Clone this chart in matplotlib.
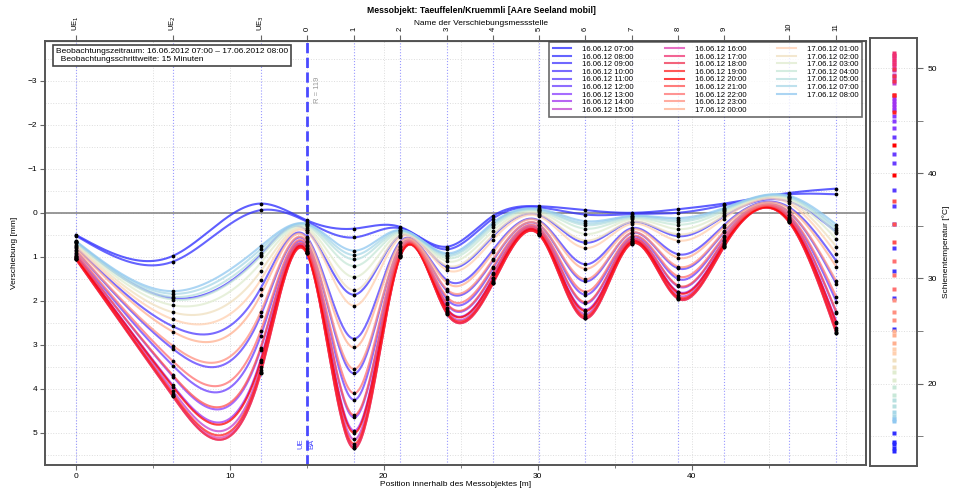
import numpy as np
import matplotlib
matplotlib.use('Agg')
import matplotlib.pyplot as plt
from matplotlib.lines import Line2D
from matplotlib.ticker import MultipleLocator, FixedLocator

plt.rcParams['font.family'] = ['Liberation Sans', 'DejaVu Sans']

# Messstellen (Position [m] und Name)
station_pos = [0, 6.3, 12.0, 15.0, 18.07, 21.06, 24.1, 27.1, 30.1, 33.1, 36.1, 39.1, 42.1, 46.3, 49.4]
station_names = ['UE$_1$', 'UE$_2$', 'UE$_3$', '0', '1', '2', '3', '4', '5', '6', '7', '8', '9', '10', '11']

# Zeitpunkte (Legende)
times_col1 = ['16.06.12 07:00', '16.06.12 08:00', '16.06.12 09:00', '16.06.12 10:00', '16.06.12 11:00',
              '16.06.12 12:00', '16.06.12 13:00', '16.06.12 14:00', '16.06.12 15:00']
times_col2 = ['16.06.12 16:00', '16.06.12 17:00', '16.06.12 18:00', '16.06.12 19:00', '16.06.12 20:00',
              '16.06.12 21:00', '16.06.12 22:00', '16.06.12 23:00', '17.06.12 00:00']
times_col3 = ['17.06.12 01:00', '17.06.12 02:00', '17.06.12 03:00', '17.06.12 04:00', '17.06.12 05:00',
              '17.06.12 07:00', '17.06.12 08:00']

colors_col1 = ['#2828ff', '#3230ff', '#4036ff', '#4c3aff', '#583cff', '#683cff', '#883cff', '#a032f0', '#c040d0']
colors_col2 = ['#e040b0', '#f03070', '#f03050', '#ff2020', '#ff0000', '#ff5050', '#ff7070', '#ff9080', '#ffb090']
colors_col3 = ['#ffd0b0', '#f0e0c0', '#e0ecd0', '#c8e8d8', '#b8e0e0', '#a8d8e8', '#90c8f0']

# Verschiebung [mm] je Messstelle
disp_col1 = [
    [0.50, 0.98, -0.21, 0.17, 0.36, 0.32, 0.77, 0.07, -0.15, -0.06, 0.00, -0.08, -0.21, -0.45, -0.55],
    [0.52, 1.11, -0.06, 0.20, 0.56, 0.35, 0.83, 0.13, -0.12, 0.04, 0.03, 0.00, -0.17, -0.42, -0.42],
    [0.67, 1.94, 0.95, 0.40, 1.86, 0.52, 1.23, 0.53, 0.05, 0.68, 0.21, 0.53, 0.08, -0.26, 0.44],
    [0.78, 2.58, 1.72, 0.55, 2.86, 0.66, 1.53, 0.84, 0.18, 1.17, 0.35, 0.94, 0.28, -0.13, 1.10],
    [0.86, 3.09, 2.34, 0.67, 3.65, 0.77, 1.77, 1.08, 0.28, 1.56, 0.46, 1.26, 0.44, -0.02, 1.62],
    [0.93, 3.47, 2.80, 0.76, 4.25, 0.85, 1.96, 1.26, 0.36, 1.86, 0.55, 1.50, 0.55, 0.06, 2.02],
    [0.97, 3.72, 3.11, 0.82, 4.65, 0.91, 2.08, 1.39, 0.41, 2.06, 0.60, 1.67, 0.63, 0.11, 2.28],
    [1.01, 3.92, 3.34, 0.86, 4.95, 0.95, 2.17, 1.48, 0.45, 2.20, 0.64, 1.79, 0.69, 0.15, 2.48],
    [1.03, 4.04, 3.50, 0.89, 5.15, 0.97, 2.23, 1.54, 0.47, 2.30, 0.67, 1.87, 0.73, 0.17, 2.61],
]
disp_col2 = [
    [1.04, 4.14, 3.61, 0.91, 5.30, 0.99, 2.28, 1.59, 0.49, 2.38, 0.69, 1.93, 0.76, 0.19, 2.71],
    [1.05, 4.17, 3.65, 0.92, 5.35, 1.00, 2.29, 1.60, 0.50, 2.40, 0.70, 1.95, 0.77, 0.20, 2.74],
    [1.05, 4.17, 3.65, 0.92, 5.35, 1.00, 2.29, 1.60, 0.50, 2.40, 0.70, 1.95, 0.77, 0.20, 2.74],
    [1.04, 4.11, 3.57, 0.91, 5.25, 0.99, 2.26, 1.57, 0.49, 2.35, 0.69, 1.91, 0.75, 0.19, 2.67],
    [1.01, 3.95, 3.38, 0.87, 5.00, 0.95, 2.18, 1.49, 0.45, 2.23, 0.65, 1.81, 0.70, 0.16, 2.51],
    [0.97, 3.69, 3.07, 0.81, 4.60, 0.90, 2.06, 1.37, 0.40, 2.03, 0.60, 1.65, 0.62, 0.10, 2.25],
    [0.91, 3.37, 2.69, 0.73, 4.10, 0.83, 1.91, 1.22, 0.34, 1.79, 0.53, 1.44, 0.53, 0.04, 1.92],
    [0.85, 3.02, 2.26, 0.65, 3.55, 0.76, 1.74, 1.05, 0.27, 1.51, 0.45, 1.22, 0.42, -0.03, 1.56],
    [0.80, 2.70, 1.87, 0.58, 3.06, 0.69, 1.59, 0.90, 0.20, 1.27, 0.38, 1.02, 0.32, -0.10, 1.23],
]
disp_col3 = [
    [0.75, 2.42, 1.53, 0.43, 2.11, 0.56, 1.30, 0.61, 0.08, 0.80, 0.25, 0.63, 0.13, -0.22, 0.93],
    [0.72, 2.26, 1.33, 0.38, 1.76, 0.51, 1.20, 0.50, 0.03, 0.63, 0.20, 0.49, 0.06, -0.27, 0.77],
    [0.69, 2.10, 1.14, 0.34, 1.46, 0.47, 1.10, 0.41, -0.01, 0.48, 0.15, 0.37, 0.01, -0.31, 0.60],
    [0.67, 1.97, 0.99, 0.30, 1.21, 0.44, 1.03, 0.33, -0.04, 0.36, 0.12, 0.27, -0.04, -0.34, 0.47],
    [0.66, 1.91, 0.91, 0.28, 1.06, 0.42, 0.98, 0.28, -0.06, 0.28, 0.10, 0.20, -0.07, -0.36, 0.40],
    [0.65, 1.84, 0.83, 0.26, 0.96, 0.40, 0.95, 0.25, -0.07, 0.24, 0.08, 0.16, -0.09, -0.37, 0.34],
    [0.64, 1.78, 0.76, 0.25, 0.86, 0.39, 0.92, 0.22, -0.09, 0.19, 0.07, 0.12, -0.11, -0.39, 0.27],
]

# Schienentemperatur [°C] mit Index des Zeitpunkts (Farbe)
temp_values = [13.6, 13.9, 14.2, 14.4, 15.3, 25.2, 28.1, 30.7, 32.9, 35.2, 36.9, 38.4, 41.0, 41.8, 43.5,
               44.3, 45.0, 45.5, 46.0, 46.3, 46.6, 46.9, 47.2, 48.6, 49.0, 49.4, 49.8, 50.2, 50.6, 51.0, 51.3,
               51.5, 51.2, 50.8, 50.4, 49.9, 49.3, 48.8, 47.5, 47.5, 45.8, 42.7, 39.8, 37.4, 35.2, 33.5,
               31.7, 30.3, 29.0, 27.9, 26.8, 26.0, 25.0, 24.6, 23.9, 23.3, 22.9, 22.2, 21.6, 21.1, 20.3,
               19.7, 18.9, 18.4, 17.9, 17.3, 16.9, 16.6, 16.4]
temp_time_idx = [0, 0, 0, 0, 1, 1, 2, 2, 3, 3, 4, 4, 5, 5, 5,
                 6, 6, 6, 6, 7, 7, 7, 7, 8, 8, 8, 8, 9, 9, 9, 9,
                 10, 10, 10, 10, 11, 11, 11, 11, 12, 12, 13, 13, 14, 14, 14,
                 15, 15, 15, 16, 16, 16, 17, 17, 17, 18, 18, 19, 19, 20, 20,
                 21, 21, 22, 22, 23, 23, 24, 24]


def natural_spline(x, y, xs):
    x = np.asarray(x, float)
    y = np.asarray(y, float)
    n = len(x)
    h = np.diff(x)
    A = np.zeros((n, n))
    r = np.zeros(n)
    A[0, 0] = A[-1, -1] = 1
    for i in range(1, n - 1):
        A[i, i - 1] = h[i - 1]
        A[i, i] = 2 * (h[i - 1] + h[i])
        A[i, i + 1] = h[i]
        r[i] = 3 * ((y[i + 1] - y[i]) / h[i] - (y[i] - y[i - 1]) / h[i - 1])
    c = np.linalg.solve(A, r)
    b = (y[1:] - y[:-1]) / h - h * (2 * c[:-1] + c[1:]) / 3
    d = (c[1:] - c[:-1]) / (3 * h)
    k = np.clip(np.searchsorted(x, xs) - 1, 0, n - 2)
    dx = xs - x[k]
    return y[k] + b[k] * dx + c[k] * dx ** 2 + d[k] * dx ** 3


times = times_col1 + times_col2 + times_col3
colors = colors_col1 + colors_col2 + colors_col3
disp = disp_col1 + disp_col2 + disp_col3

fig = plt.figure(figsize=(9.62, 4.9), dpi=100)
ax = fig.add_axes([0.0468, 0.051, 0.8531, 0.865])
axt = fig.add_axes([0.9044, 0.049, 0.0489, 0.873])

# Raster und Messstellen-Linien
for xg in range(0, 55, 5):
    ax.axvline(xg, color='#dddddd', ls=':', lw=0.7, zorder=0)
for yg in np.arange(-3.5, 6, 0.5):
    ax.axhline(yg, color='#dddddd', ls=':', lw=0.7, zorder=0)
for p in station_pos:
    if p == 15.0:
        ax.axvline(p, color='#4a4aff', ls='--', lw=2, zorder=1)
    else:
        ax.axvline(p, color='#9a9aff', ls=':', lw=0.8, zorder=1)
ax.axhline(0, color='#888888', lw=1.2, zorder=1)

xs = np.linspace(station_pos[0], station_pos[-1], 600)
handles = []
for vals, col, lab in zip(disp, colors, times):
    line, = ax.plot(xs, natural_spline(station_pos, vals, xs), color=col, lw=1.5, alpha=0.75,
                    label=lab, zorder=2)
    handles.append(line)
for vals in disp:
    ax.plot(station_pos, vals, 'o', color='black', ms=1.7, zorder=3)

ax.set_xlim(-2.0, 51.3)
ax.set_ylim(5.73, -3.9)
ax.xaxis.set_major_locator(FixedLocator([0, 10, 20, 30, 40]))
ax.xaxis.set_minor_locator(FixedLocator([5, 15, 25, 35, 45]))
ax.yaxis.set_major_locator(MultipleLocator(1))
ax.tick_params(axis='both', labelsize=6, color='#666666', length=3.5, direction='out', pad=2)
ax.tick_params(which='minor', length=2.5, color='#666666')
ax.set_xlabel('Position innerhalb des Messobjektes [m]', fontsize=6, labelpad=1)
ax.set_ylabel('Verschiebung [mm]', fontsize=6, labelpad=7)
for s in ax.spines.values():
    s.set_color('#555555')
    s.set_linewidth(1.4)

top = ax.secondary_xaxis('top')
top.set_xticks(station_pos)
top.set_xticklabels(station_names, rotation=90, fontsize=5.5)
top.tick_params(length=4, color='#666666')

ax.text(15.45, -2.8, 'R = 119', rotation=90, fontsize=5.5, color='#999999', ha='left', va='center')
ax.text(14.6, 5.25, 'UE', rotation=90, fontsize=5.5, color='#4a4aff', ha='center', va='center')
ax.text(15.35, 5.25, 'BA', rotation=90, fontsize=5.5, color='#4a4aff', ha='center', va='center')

ax.text(0.013, 0.985, 'Beobachtungszeitraum: 16.06.2012 07:00 \u2013 17.06.2012 08:00\n'
        '  Beobachtungsschrittweite: 15 Minuten', transform=ax.transAxes, fontsize=6,
        va='top', ha='left', linespacing=1.3,
        bbox=dict(boxstyle='square,pad=0.35', fc='white', ec='#444444', lw=1.2))

# zwei leere Einträge, damit die dritte Spalte 7 Zeilen hat
blank = Line2D([], [], color='none', label=' ')
leg = ax.legend(handles=handles + [blank, blank], loc='upper right', bbox_to_anchor=(0.9955, 0.998),
                borderaxespad=0, ncol=3, fontsize=5.6, labelspacing=0.02, handlelength=2.4,
                columnspacing=4.0, handletextpad=1.4, fancybox=False, edgecolor='#444444', borderpad=0.45)
leg.get_frame().set_linewidth(1.2)
leg.set_zorder(5)

fig.text(0.5, 0.978, 'Messobjekt: Taeuffelen/Kruemmli [AAre Seeland mobil]', fontsize=6.2,
         fontweight='bold', ha='center', va='center')
fig.text(0.5, 0.953, 'Name der Verschiebungsmessstelle', fontsize=6, ha='center', va='center')

# Temperaturleiste
for t, k in zip(temp_values, temp_time_idx):
    axt.plot(0, t, 's', color=colors[k], ms=2.6, mec='none')
axt.set_xlim(-1, 1)
axt.set_ylim(12.15, 52.86)
axt.set_xticks([])
axt.yaxis.tick_right()
axt.yaxis.set_label_position('right')
axt.yaxis.set_major_locator(MultipleLocator(10))
axt.yaxis.set_minor_locator(MultipleLocator(5))
axt.grid(True, which='both', axis='y', color='#dddddd', ls=':', lw=0.7)
axt.set_axisbelow(True)
axt.tick_params(axis='y', labelsize=6, color='#666666', length=4)
axt.tick_params(which='minor', length=4, color='#666666')
axt.set_ylabel('Schienentemperatur [\u00b0C]', fontsize=6, labelpad=4)
for s in axt.spines.values():
    s.set_color('#555555')
    s.set_linewidth(1.4)

fig.savefig('out.png', dpi=100)
